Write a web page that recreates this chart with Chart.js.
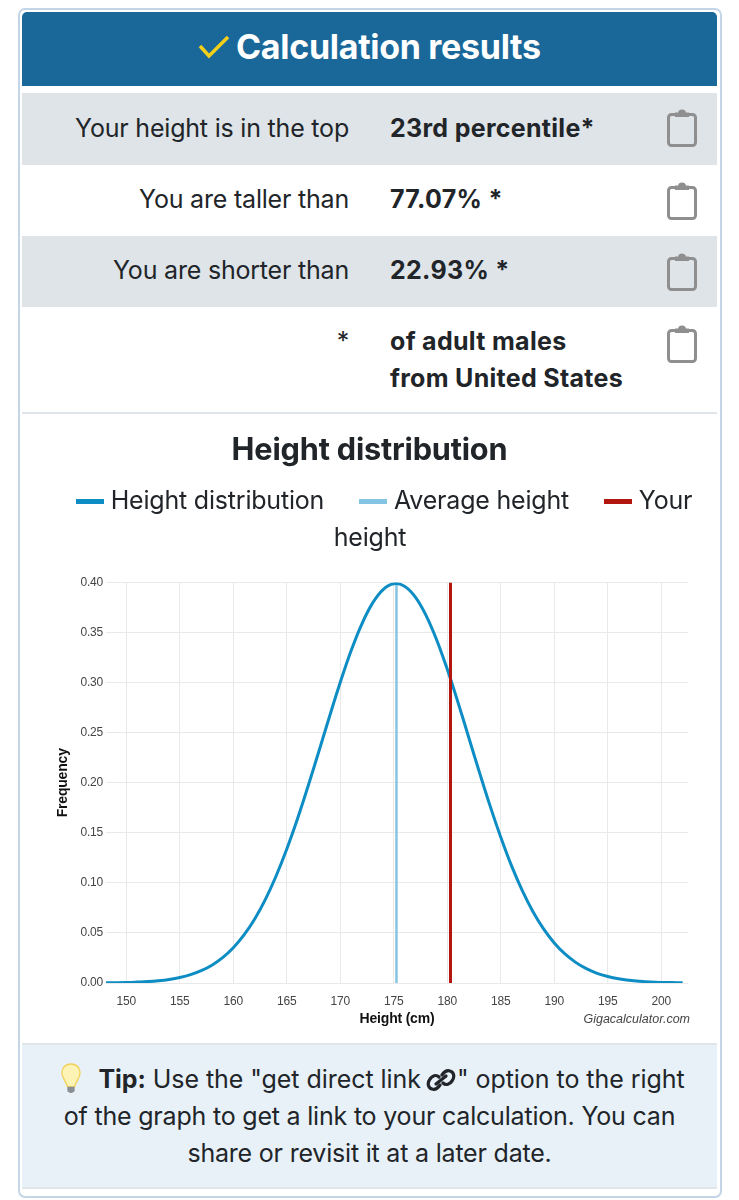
<!DOCTYPE html>
<html>
<head>
<meta charset="utf-8">
<title>Height distribution</title>
<script src="https://cdn.jsdelivr.net/npm/chart.js@4/dist/chart.umd.js"></script>
<style>
  html, body { margin: 0; padding: 0; background: #fff; }
  body { width: 739px; height: 1200px; position: relative; overflow: hidden; font-family: Inter, sans-serif; color: #212529; font-size: 25px; letter-spacing: -0.2px; }
  .abs { position: absolute; }
  #card { left: 18px; top: 8px; width: 700px; height: 1186px; border: 2px solid #c3d5e6; border-radius: 7px; }
  #head { left: 22px; top: 12px; width: 695px; height: 74px; background: #1a6899; border-radius: 5px 5px 0 0; color: #fff; font-weight: 700; font-size: 34px; line-height: 70px; }
  #head span { position: absolute; left: 214px; white-space: nowrap; letter-spacing: -0.3px; }
  #head svg { position: absolute; left: 175px; top: 23px; }
  .row { left: 22px; width: 695px; }
  .grey { background: #dee4e8; }
  .lab { position: absolute; right: 368px; white-space: nowrap; line-height: 37px; }
  .val { position: absolute; left: 368px; white-space: nowrap; line-height: 37px; font-weight: 700; letter-spacing: 0.3px; }
  .row svg { position: absolute; left: 644px; }
  #sep { left: 22px; top: 412px; width: 695px; height: 2px; background: #dfe5ea; }
  #chartbox { left: 51px; top: 420px; width: 637px; height: 620px; }
  #legend { left: 40px; top: 482px; width: 660px; text-align: center; line-height: 37px; }
  #legend .item { margin-left: 28px; }
  #legend i { display: inline-block; width: 28px; height: 5px; margin-right: 7px; vertical-align: 5px; }
  #site { right: 49px; top: 1012px; font: italic 12.5px "Liberation Sans", sans-serif; color: #444; letter-spacing: 0; }
  #tip { left: 22px; top: 1043px; width: 695px; height: 142px; background: #e8f1f8; border-top: 2px solid #dfe5ea; border-bottom: 2px solid #dfe5ea; text-align: center; line-height: 37px; }
  #tiptext { position: absolute; left: 0; top: 16px; width: 100%; white-space: nowrap; }
</style>
</head>
<body>
<div id="card" class="abs"></div>

<div id="head" class="abs">
  <svg width="34" height="24" viewBox="0 0 34 24"><path d="M3 11 L12 21 L31 2" fill="none" stroke="#f3cf1a" stroke-width="3.5"/></svg>
  <span>Calculation results</span>
</div>

<div class="abs row grey" style="top:93px;height:72px"><div class="lab" style="top:17px">Your height is in the top</div><div class="val" style="top:17px">23rd percentile*</div><svg class="clip" style="top:15px" width="32" height="40" viewBox="0 0 32 40"><use href="#clipicon"/></svg></div>
<div class="abs row" style="top:165px;height:71px"><div class="lab" style="top:16px">You are taller than</div><div class="val" style="top:16px">77.07% *</div><svg class="clip" style="top:16px" width="32" height="40" viewBox="0 0 32 40"><use href="#clipicon"/></svg></div>
<div class="abs row grey" style="top:236px;height:71px"><div class="lab" style="top:16px">You are shorter than</div><div class="val" style="top:16px">22.93% *</div><svg class="clip" style="top:16px" width="32" height="40" viewBox="0 0 32 40"><use href="#clipicon"/></svg></div>
<div class="abs row" style="top:307px;height:105px"><div class="lab" style="top:16px">*</div><div class="val" style="top:16px">of adult males<br>from United States</div><svg class="clip" style="top:17px" width="32" height="40" viewBox="0 0 32 40"><use href="#clipicon"/></svg></div>
<div id="sep" class="abs"></div>

<svg width="0" height="0" style="position:absolute"><defs>
  <g id="clipicon" fill="none" stroke="#8f8f8f" stroke-width="3">
    <rect x="2.5" y="6.5" width="27" height="31" rx="3"/>
    <path d="M10 8 V5.5 H13 C13 1.5 19 1.5 19 5.5 H22 V8 Z" fill="#8f8f8f" stroke-width="2"/>
  </g>
</defs></svg>

<div id="chartbox" class="abs"><canvas id="myChart"></canvas></div>
<div id="legend" class="abs"></div>
<div id="site" class="abs">Gigacalculator.com</div>

<div id="tip" class="abs">
  <svg class="abs" style="left:39px;top:18px" width="20" height="31" viewBox="0 0 22 34">
    <path d="M11 1 C4 1 1 6 1 11 C1 17 6 20 7 26 H15 C16 20 21 17 21 11 C21 6 18 1 11 1 Z" fill="#fdf3b4" stroke="#f2d25e" stroke-width="1.5"/>
    <path d="M7 26 H15 V31 L12 33 H10 L7 31 Z" fill="#8a8f94"/>
  </svg>
  <div id="tiptext">
    <span style="margin-left:44px;letter-spacing:-0.05px"><b>Tip:</b> Use the "get direct link <svg width="32" height="24" viewBox="0 0 32 24" style="vertical-align:-4px;margin:0 0 0 -3px"><g fill="none" stroke="#212529" stroke-width="3.2" stroke-linecap="round"><path d="M14 9 C11 6 7 8 5 11 C2 15 3 20 7 21 C10 22 13 20 15 17"/><path d="M18 15 C21 18 25 16 27 13 C30 9 29 4 25 3 C22 2 19 4 17 7"/><path d="M11 16 L21 8"/></g></svg>" option to the right</span><br>
    of the graph to get a link to your calculation. You can<br>
    share or revisit it at a later date.
  </div>
</div>

<script>
const heights = [148, 149, 150, 151, 152, 153, 154, 155, 156, 157, 158, 159, 160, 161, 162, 163, 164, 165, 166, 167, 168, 169, 170, 171, 172, 173, 174, 175, 176, 177, 178, 179, 180, 181, 182, 183, 184, 185, 186, 187, 188, 189, 190, 191, 192, 193, 194, 195, 196, 197, 198, 199, 200, 201, 202];
const frequency = [0.0002, 0.0003, 0.0005, 0.0009, 0.0014, 0.0023, 0.0036, 0.0055, 0.0083, 0.0123, 0.0178, 0.0253, 0.0352, 0.048, 0.064, 0.0836, 0.1069, 0.1338, 0.164, 0.197, 0.2315, 0.2665, 0.3004, 0.3316, 0.3583, 0.3792, 0.393, 0.3988, 0.3963, 0.3857, 0.3675, 0.3429, 0.3133, 0.2803, 0.2455, 0.2106, 0.1769, 0.1456, 0.1172, 0.0925, 0.0714, 0.054, 0.04, 0.029, 0.0206, 0.0143, 0.0097, 0.0065, 0.0042, 0.0027, 0.0017, 0.001, 0.0006, 0.0004, 0.0002];
const averageX = [175.25, 175.25];
const averageY = [0, 0.4];
const yourX = [180.3, 180.3];
const yourY = [0, 0.4];
const xTicks = [150, 155, 160, 165, 170, 175, 180, 185, 190, 195, 200];
const yTicks = [0, 0.05, 0.1, 0.15, 0.2, 0.25, 0.3, 0.35, 0.4];

const toPoints = (xs, ys) => xs.map((x, i) => ({ x: x, y: ys[i] }));

const data = {
    datasets: [
        { label: 'Height distribution', data: toPoints(heights, frequency), borderColor: '#0d8dc4', backgroundColor: '#0d8dc4', borderWidth: 3, tension: 0.4, order: 1 },
        { label: 'Average height', data: toPoints(averageX, averageY), borderColor: '#84c5e3', backgroundColor: '#84c5e3', borderWidth: 2.5, order: 2 },
        { label: 'Your height', data: toPoints(yourX, yourY), borderColor: '#b3160e', backgroundColor: '#b3160e', borderWidth: 3, order: 0 }
    ]
};

const tickFont = { family: '"Liberation Sans", sans-serif', size: 12 };
const axisTitleFont = { family: '"Liberation Sans", sans-serif', size: 14, weight: 'bold' };

const options = {
    responsive: true,
    maintainAspectRatio: false,
    animation: false,
    showLine: true,
    elements: { point: { radius: 0 } },
    plugins: {
        legend: { display: false },
        tooltip: { enabled: false },
        title: {
            display: true,
            text: 'Height distribution',
            color: '#212529',
            font: { family: 'Inter, sans-serif', size: 30.7, weight: 'bold' },
            padding: { top: 12, bottom: 113.7 }
        }
    },
    scales: {
        x: {
            type: 'linear',
            min: 148.1,
            max: 202.5,
            afterBuildTicks: scale => { scale.ticks = xTicks.map(v => ({ value: v })); },
            afterFit: scale => { scale.height = 57; },
            grid: { color: '#e9e9e9', drawTicks: false },
            border: { display: false },
            ticks: { color: '#444', font: tickFont, padding: 11, maxRotation: 0 },
            title: { display: true, text: 'Height (cm)', color: '#111', font: axisTitleFont, padding: { bottom: 12.6 } }
        },
        y: {
            min: 0,
            max: 0.4,
            afterBuildTicks: scale => { scale.ticks = yTicks.map(v => ({ value: v })); },
            afterFit: scale => { scale.width = 55; },
            grid: { color: '#e9e9e9', drawTicks: false },
            border: { display: false },
            ticks: { color: '#444', font: tickFont, padding: 3, callback: v => v.toFixed(2) },
            title: { display: true, text: 'Frequency', color: '#111', font: axisTitleFont, padding: { top: 3.6 } }
        }
    }
};

const chart = new Chart(document.getElementById('myChart'), { type: 'scatter', data: data, options: options });

// legend is html so it wraps inside the words like the page does
const legend = document.getElementById('legend');
chart.data.datasets.forEach(ds => {
    const item = document.createElement('span');
    item.className = 'item';
    item.innerHTML = '<i style="background:' + ds.borderColor + '"></i>' + ds.label;
    legend.appendChild(item);
    legend.appendChild(document.createTextNode(' '));
});
</script>
</body>
</html>
